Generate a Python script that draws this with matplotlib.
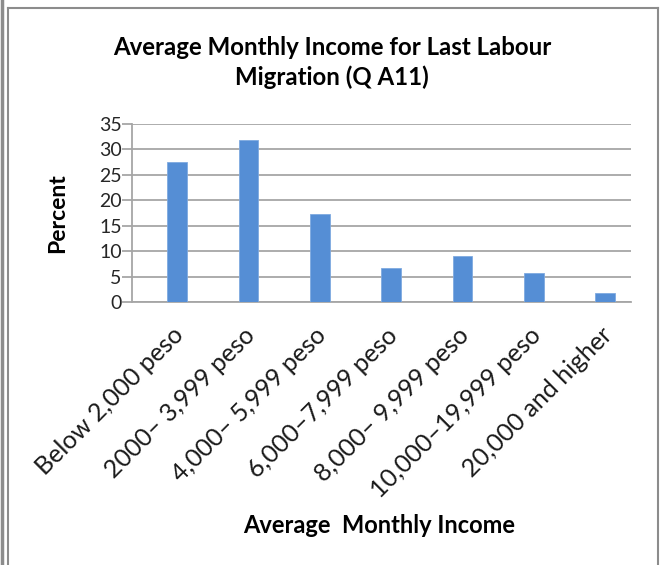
import matplotlib.pyplot as plt
from matplotlib.lines import Line2D
from matplotlib.transforms import ScaledTranslation

# data
categories = ["Below 2,000 peso", "2000\u2013 3,999 peso", "4,000\u2013 5,999 peso",
              "6,000\u20137,999 peso", "8,000\u2013 9,999 peso", "10,000\u201319,999 peso",
              "20,000 and higher"]
percent = [27.5, 31.9, 17.4, 6.7, 9.1, 5.7, 1.8]
yticks = [0, 5, 10, 15, 20, 25, 30, 35]

plt.rcParams['font.family'] = ['Lato', 'DejaVu Sans']

fig = plt.figure(figsize=(6.64, 5.65), dpi=100)
ax = fig.add_axes([0.1983, 0.465, 0.752, 0.3155])

x = list(range(len(categories)))
ax.bar(x, percent, width=0.275, color='#558ED5', edgecolor='#7FAAE0', linewidth=0.6, zorder=3)

ax.set_xlim(-0.636, 6.362)
ax.set_ylim(0, 35)
ax.set_yticks(yticks)
ax.yaxis.grid(True, color='#A6A6A6', linewidth=1.3, zorder=0)
ax.tick_params(axis='y', length=7.2, width=1.3, color='#A6A6A6', labelsize=14,
               labelcolor='#262626', pad=0)

ax.set_xticks(x)
ax.set_xticklabels(categories, rotation=45, ha='right', va='center',
                   rotation_mode='anchor', fontsize=18, color='#1a1a1a')
ax.tick_params(axis='x', length=0, pad=21)
shift = ScaledTranslation(3 / 100, 0, fig.dpi_scale_trans)
for lab in ax.get_xticklabels():
    lab.set_transform(lab.get_transform() + shift)

for s in ['top', 'right']:
    ax.spines[s].set_visible(False)
for s in ['left', 'bottom']:
    ax.spines[s].set_color('#A6A6A6')
    ax.spines[s].set_linewidth(1.3)

ax.set_ylabel('Percent', fontsize=16.5, fontweight='bold', va='center')
ax.yaxis.set_label_coords(-0.148, 0.5)
ax.set_xlabel('Average  Monthly Income', fontsize=17, fontweight='bold', va='center')
ax.xaxis.set_label_coords(0.495, -1.253)

fig.text(0.5, 0.889, 'Average Monthly Income for Last Labour\nMigration (Q A11)',
         ha='center', va='center', fontsize=17.3, fontweight='bold', linespacing=1.31)

# chart frame lines
fc = '#8c8c8c'
fig.add_artist(Line2D([0.003, 0.003], [0, 1], color=fc, lw=2.5))
fig.add_artist(Line2D([0.0125, 0.0125], [0, 0.986], color=fc, lw=1.5))
fig.add_artist(Line2D([0.0125, 0.991], [0.986, 0.986], color=fc, lw=1.5))
fig.add_artist(Line2D([0.991, 0.991], [0, 0.986], color=fc, lw=1.5))

fig.savefig('out.png', dpi=100, facecolor='white')
